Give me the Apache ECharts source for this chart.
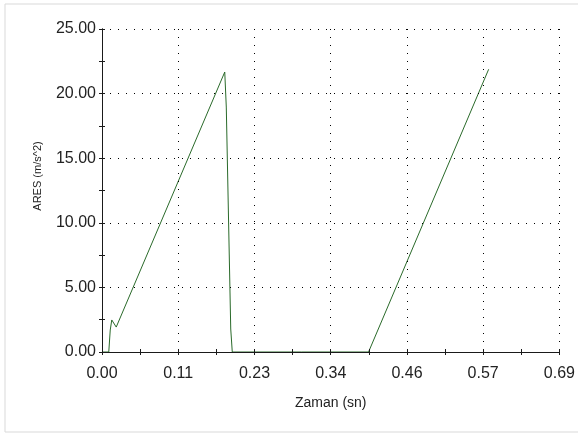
<!DOCTYPE html>
<html>
<head>
<meta charset="utf-8">
<script src="https://cdn.jsdelivr.net/npm/echarts@6/dist/echarts.min.js"></script>
<style>
    html, body { margin: 0; padding: 0; background: #fff; }
    #chart { width: 578px; height: 434px; }
</style>
</head>
<body>
<div id="chart"></div>
<script>
// Zaman (sn) ve ARES (m/s^2) ölçümleri
const zaman = [0, 0.0102, 0.0124, 0.0147, 0.0214, 0.1847, 0.187, 0.1937, 0.196, 0.30, 0.401, 0.5817];
const ares  = [0, 0, 1.70, 2.48, 1.93, 21.67, 18.96, 1.78, 0, 0, 0, 21.88];

const xTickStep = 0.1147;
const xMax = 0.6882;
const yTickStep = 5;
const yMax = 25;

const chartDom = document.getElementById('chart');
const myChart = echarts.init(chartDom);

const axisColor = '#1a1a1a';
const labelColor = '#222';
const font = 'Liberation Sans, Arial, sans-serif';

// ECharts ticks cannot cross the axis line, so a second axis draws the inner half
const baseX = {
    type: 'value',
    min: 0,
    max: xMax,
    interval: xTickStep,
    z: 5,
    axisLine: { show: true, lineStyle: { color: axisColor, width: 1 } },
    minorTick: { show: true, splitNumber: 2, length: 3, lineStyle: { color: axisColor } }
};
const baseY = {
    type: 'value',
    min: 0,
    max: yMax,
    interval: yTickStep,
    z: 5,
    axisLine: { show: true, lineStyle: { color: axisColor, width: 1 } },
    minorTick: { show: true, splitNumber: 2, length: 3, lineStyle: { color: axisColor } }
};

const option = {
    animation: false,
    backgroundColor: '#fff',
    grid: { left: 102, right: 17, top: 29, bottom: 82 },
    graphic: [
        {
            type: 'rect',
            shape: { x: 5, y: 4, width: 590, height: 428 },
            style: { fill: 'none', stroke: '#d9d9d9', lineWidth: 1 },
            silent: true, z: -1
        },
        {
            type: 'text',
            x: 38, y: 176,
            rotation: Math.PI / 2,
            style: {
                text: 'ARES (m/s^2)',
                fill: labelColor,
                font: '11px ' + font,
                align: 'center',
                verticalAlign: 'middle'
            }
        }
    ],
    xAxis: [
        Object.assign({}, baseX, {
            name: 'Zaman (sn)',
            nameLocation: 'middle',
            nameGap: 44,
            nameTextStyle: { color: labelColor, fontSize: 14, fontFamily: font },
            axisTick: { show: true, length: 3, lineStyle: { color: axisColor } },
            axisLabel: {
                color: labelColor, fontSize: 16, fontFamily: font, margin: 14,
                formatter: v => v.toFixed(2)
            },
            splitLine: { show: true, lineStyle: { color: '#000', type: [1, 7], width: 1 } }
        }),
        Object.assign({}, baseX, {
            position: 'bottom',
            offset: 0,
            axisTick: { show: true, inside: true, length: 3, lineStyle: { color: axisColor } },
            axisLabel: { show: false },
            splitLine: { show: false }
        })
    ],
    yAxis: [
        Object.assign({}, baseY, {
            axisTick: { show: true, length: 3, lineStyle: { color: axisColor } },
            axisLabel: {
                color: labelColor, fontSize: 16, fontFamily: font, margin: 6,
                formatter: v => v.toFixed(2)
            },
            splitLine: { show: true, lineStyle: { color: '#000', type: [1, 7], width: 1 } }
        }),
        Object.assign({}, baseY, {
            position: 'left',
            offset: 0,
            axisTick: { show: true, inside: true, length: 3, lineStyle: { color: axisColor } },
            axisLabel: { show: false },
            splitLine: { show: false }
        })
    ],
    series: [
        {
            type: 'line',
            data: zaman.map((t, i) => [t, ares[i]]),
            symbol: 'none',
            lineStyle: { color: '#2a6a2a', width: 1 },
            z: 2
        }
    ]
};

myChart.setOption(option);
window.addEventListener('resize', () => myChart.resize());
</script>
</body>
</html>
